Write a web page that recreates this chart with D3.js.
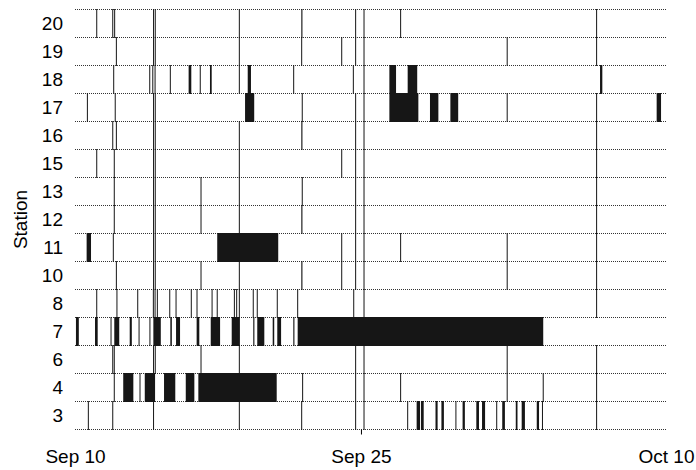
<!DOCTYPE html>
<html>
<head>
<meta charset="utf-8">
<script src="https://cdn.jsdelivr.net/npm/d3@7"></script>
<style>
body { margin: 0; background: #fff; }
svg { display: block; font-family: "Liberation Sans", Arial, Helvetica, sans-serif; }
</style>
</head>
<body>
<svg width="696" height="470"></svg>
<script>
// times are given as September day numbers (Oct 1 = 31), with fractions of a day.
// a single number is an instant event, a pair [start, end] is an interval
const stations = ['20', '19', '18', '17', '16', '15', '13', '12', '11', '10', '8', '7', '6', '4', '3']

const s20 = [11.14, 11.98, 12.08, 14.12, 14.21, 18.62, [21.87, 21.93], 24.72, 25.16, 27.08, 37.36]
const s19 = [12.17, 14.12, 14.21, 18.62, 21.89, 23.99, 24.72, 25.16, 32.67, 37.36]
const s18 = [12.03, 13.92, 14.08, 14.20, 15.00, [15.96, 16.10], 16.57, [17.08, 17.17], 18.62,
  [19.06, 19.23], 21.47, 24.60, 25.16, [26.49, 26.84], [27.45, 27.95], [37.54, 37.66]]
const s17 = [10.65, 12.11, 14.12, 14.21, [18.92, 19.40], 21.92, 24.72, 25.16, [26.49, 28.01],
  [28.62, 29.06], [29.69, 30.10], 32.67, 37.36, [40.51, 40.74]]
const s16 = [11.98, 12.17, 14.12, 14.21, 18.62, [21.87, 21.93], 24.72, 25.16, 37.36]
const s15 = [11.14, 12.06, 14.12, 14.21, 18.62, 23.99, 24.72, 25.16, 37.36]
const s13 = [12.06, 14.12, 14.21, 16.61, 18.62, 21.92, 24.72, 25.16, 37.36]
const s12 = [12.06, 14.12, 14.21, 16.61, 18.62, [21.87, 21.93], 24.72, 25.16, 37.36]
const s11 = [[10.61, 10.84], 12.01, 14.12, 14.21, [17.46, 20.66], 23.99, 24.72, 25.16, 27.08, 32.67, 37.36]
const s10 = [12.17, 14.12, 14.21, 16.61, 18.62, [21.87, 21.93], 23.99, 24.72, 25.16, 32.67, 37.36]
const s8 = [11.14, 12.20, 13.29, 14.11, 14.20, 14.32, 14.97, 15.30, 16.10, 16.40, 17.19, 17.46,
  18.36, 18.48, 18.62, 19.35, 19.56, 20.61, 21.68, 24.62, 25.16, 37.36]
const s7 = [[10.05, 10.20], [11.05, 11.19], 11.89, [12.06, 12.32], [12.87, 12.98], 13.36, 13.93,
  [14.11, 14.50], [15.00, 15.08], [15.30, 15.51], [16.38, 16.52], [17.12, 17.61], [18.22, 18.65],
  [19.35, 19.41], [19.56, 19.93], [20.37, 20.45], [20.61, 20.81], [21.45, 21.51], [21.68, 34.56]]
const s6 = [11.98, 12.06, 14.12, 14.21, 16.61, 18.62, 24.72, 25.16, 32.67, 37.36]
const s4 = [12.06, [12.53, 13.06], 13.41, [13.66, 14.20], [14.67, 15.26], [15.81, 16.26],
  [16.47, 20.58], 21.94, 24.72, 25.16, 27.08, 32.67, 34.56, 37.36]
const s3 = [10.70, 11.98, 14.12, 18.62, 21.89, 24.72, 25.16, 27.45, [27.92, 28.10], [28.15, 28.29],
  [28.91, 29.02], [29.22, 29.35], 29.98, [30.33, 30.45], [31.05, 31.19], [31.35, 31.51], 32.12,
  [32.41, 32.55], [33.12, 33.21], [33.43, 33.60], [34.22, 34.34], 34.52, 37.36]

const events = {'20': s20, '19': s19, '18': s18, '17': s17, '16': s16, '15': s15, '13': s13,
  '12': s12, '11': s11, '10': s10, '8': s8, '7': s7, '6': s6, '4': s4, '3': s3}

// axis: Sep 10, Sep 25 and the end of Oct 10
const tickDays = [10, 25, 41]
const tickLabels = ['Sep 10', 'Sep 25', 'Oct 10']

const base = Date.UTC(2020, 8, 1)
const toDate = d => new Date(base + (d - 1) * 864e5)

const svg = d3.select('svg')
const width = +svg.attr('width')
const height = +svg.attr('height')
const margin = {top: 9.5, right: 30, bottom: 40.5, left: 75}
const fontSize = '19px'

const x = d3.scaleUtc()
    .domain([toDate(10), toDate(41)])
    .range([margin.left, width - margin.right])

const y = d3.scaleBand()
    .domain(stations)
    .range([margin.top, height - margin.bottom])

// dotted row borders
const borders = stations.map(s => y(s)).concat([y(stations[stations.length - 1]) + y.bandwidth()])
svg.append('g')
  .selectAll('line').data(borders)
  .enter().append('line')
    .attr('x1', x.range()[0])
    .attr('x2', x.range()[1])
    .attr('y1', d => d)
    .attr('y2', d => d)
    .attr('stroke', '#333')
    .attr('stroke-dasharray', '1,1')

const rows = svg.append('g')
  .selectAll('g').data(stations)
  .enter().append('g')
    .attr('transform', s => `translate(0,${y(s) - 0.5})`)

rows.selectAll('rect')
  .data(s => events[s].map(e => Array.isArray(e) ? e : [e, e]))
  .enter().append('rect')
    .attr('x', d => x(toDate(d[0])) - (d[0] === d[1] ? 0.5 : 0))
    .attr('width', d => Math.max(1, x(toDate(d[1])) - x(toDate(d[0]))))
    .attr('height', y.bandwidth() + 1)
    .attr('fill', '#161616')

// y labels
const yAxis = d3.axisLeft(y).tickSize(0).tickPadding(0)
const gy = svg.append('g')
    .attr('transform', 'translate(63,0)')
    .call(yAxis)
gy.select('.domain').remove()
gy.selectAll('text')
    .attr('font-size', fontSize)
    .attr('font-family', null)
    .attr('fill', '#000')

// x axis, only the middle tick mark is drawn
const xAxis = d3.axisBottom(x)
    .tickValues(tickDays.map(toDate))
    .tickFormat((d, i) => tickLabels[i])
    .tickSize(5)
    .tickPadding(15)
const gx = svg.append('g')
    .attr('transform', `translate(0,${height - margin.bottom})`)
    .call(xAxis)
gx.select('.domain').remove()
gx.selectAll('.tick line').filter((d, i) => i !== 1).remove()
gx.selectAll('text')
    .attr('font-size', fontSize)
    .attr('font-family', null)
    .attr('fill', '#000')

svg.append('text')
    .attr('transform', `translate(26.5,${(margin.top + height - margin.bottom) / 2}) rotate(-90)`)
    .attr('text-anchor', 'middle')
    .attr('font-size', fontSize)
    .text('Station')
</script>
</body>
</html>
